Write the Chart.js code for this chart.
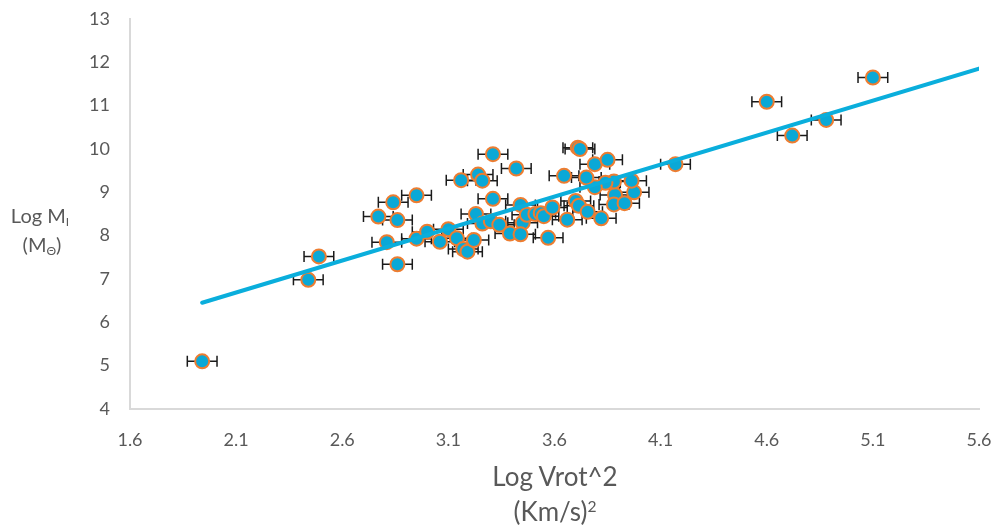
<!DOCTYPE html>
<html>
<head>
<meta charset="utf-8">
<script src="https://cdn.jsdelivr.net/npm/chart.js@4"></script>
<style>
  html, body { margin:0; padding:0; background:#fff; }
  #wrap { position:relative; width:999px; height:530px; overflow:hidden; }
  canvas { position:absolute; left:0; top:0; }
  .t { position:absolute; color:#595959; font-family:Lato, "Open Sans", sans-serif; white-space:nowrap; text-align:center; }
  .t sub { font-size:60%; vertical-align:-0.25em; line-height:0; }
  .t sup { font-size:60%; vertical-align:0.6em; line-height:0; }
</style>
</head>
<body>
<div id="wrap">
  <canvas id="c" width="999" height="530"></canvas>
  <div class="t" id="yt1" style="left:0; width:80px; top:203px; font-size:20px;">Log M<sub>I</sub></div>
  <div class="t" id="yt2" style="left:0; width:84px; top:232px; font-size:20px;">(M<sub>Θ</sub>)</div>
  <div class="t" id="xt1" style="left:455px; width:200px; top:460px; font-size:26px;">Log Vrot^2</div>
  <div class="t" id="xt2" style="left:455px; width:200px; top:495px; font-size:26px;">(Km/s)<sup>2</sup></div>
</div>
<script>
// ---- data ----
const logV2 = [1.94, 2.44, 2.49, 2.77, 2.84, 2.86, 2.81, 2.86, 2.95, 2.95,
               3.00, 3.06, 3.10, 3.14, 3.17, 3.19, 3.22, 3.23, 3.26, 3.30,
               3.34, 3.31, 3.16, 3.24, 3.26, 3.31, 3.42, 3.39, 3.44, 3.45,
               3.44, 3.47, 3.51, 3.535, 3.55, 3.59, 3.57, 3.66, 3.70, 3.715,
               3.756, 3.82, 3.885, 3.88, 3.93, 3.975, 3.963, 3.88, 3.84, 3.79,
               3.75, 3.645, 3.79, 3.85, 3.71, 3.72, 4.17, 4.60, 4.72, 4.88, 5.10];
const logM  = [5.10, 6.98, 7.52, 8.44, 8.77, 8.36, 7.85, 7.34, 8.93, 7.93,
               8.09, 7.86, 8.15, 7.94, 7.69, 7.63, 7.90, 8.50, 8.28, 8.33,
               8.25, 8.85, 9.28, 9.41, 9.27, 9.88, 9.55, 8.05, 8.71, 8.30,
               8.03, 8.48, 8.50, 8.52, 8.45, 8.65, 7.95, 8.37, 8.80, 8.69,
               8.55, 8.40, 8.94, 8.72, 8.75, 9.00, 9.27, 9.25, 9.22, 9.12,
               9.34, 9.38, 9.65, 9.75, 10.03, 10.00, 9.65, 11.09, 10.31, 10.67, 11.65];
const xErr = 0.07;           // horizontal error bar half-width (Log units)
const trendEndX = 5.6;        // trendline forecast end
const xTicks = [1.6, 2.1, 2.6, 3.1, 3.6, 4.1, 4.6, 5.1, 5.6];
const yTicks = [4, 5, 6, 7, 8, 9, 10, 11, 12, 13];

// ---- linear least-squares trendline ----
const n = logV2.length;
const mx = logV2.reduce((a,b)=>a+b,0)/n;
const my = logM.reduce((a,b)=>a+b,0)/n;
let sxy = 0, sxx = 0;
for (let i=0;i<n;i++){ sxy += (logV2[i]-mx)*(logM[i]-my); sxx += (logV2[i]-mx)**2; }
const slope = sxy/sxx, icpt = my - slope*mx;
const tx0 = Math.min(...logV2);
const trend = [{x:tx0, y:icpt+slope*tx0}, {x:trendEndX, y:icpt+slope*trendEndX}];

const pts = logV2.map((x,i)=>({x, y:logM[i]}));

const errorBars = {
  id:'errorBars',
  beforeDatasetsDraw(chart){
    const {ctx, scales:{x, y}} = chart;
    ctx.save();
    ctx.strokeStyle = '#1a1a1a';
    ctx.lineWidth = 1.5;
    const cap = 5.5;
    pts.forEach(p=>{
      const x0 = x.getPixelForValue(p.x - xErr), x1 = x.getPixelForValue(p.x + xErr);
      const py = y.getPixelForValue(p.y);
      ctx.beginPath();
      ctx.moveTo(x0, py); ctx.lineTo(x1, py);
      ctx.moveTo(x0, py-cap); ctx.lineTo(x0, py+cap);
      ctx.moveTo(x1, py-cap); ctx.lineTo(x1, py+cap);
      ctx.stroke();
    });
    ctx.restore();
  }
};

new Chart(document.getElementById('c'), {
  type:'scatter',
  data:{
    datasets:[
      { label:'trend', type:'line', data:trend, borderColor:'#0AAEDC', borderWidth:4,
        pointRadius:0, fill:false, order:0, borderCapStyle:'round' },
      { label:'data', data:pts, backgroundColor:'#0AA8D6', borderColor:'#ED7D31',
        borderWidth:2, pointRadius:7, pointHoverRadius:7, order:1 }
    ]
  },
  plugins:[errorBars],
  options:{
    responsive:false,
    animation:false,
    layout:{ padding:{ top:19, right:20, left:0, bottom:0 } },
    plugins:{ legend:{display:false}, tooltip:{enabled:false} },
    scales:{
      x:{
        type:'linear', min:1.6, max:5.6,
        afterBuildTicks(s){ s.ticks = xTicks.map(v=>({value:v})); },
        afterFit(s){ s.height = 121; s.paddingLeft = 0; s.paddingRight = 0; },
        grid:{ display:false, drawTicks:false, tickLength:0 },
        border:{ display:true, color:'#D9D9D9', width:2 },
        ticks:{ padding:20, color:'#595959', font:{family:'Lato', size:18},
                callback:v=>Number(v).toFixed(1), maxRotation:0 }
      },
      y:{
        type:'linear', min:4, max:13,
        afterBuildTicks(s){ s.ticks = yTicks.map(v=>({value:v})); },
        afterFit(s){ s.width = 130; s.paddingTop = 0; s.paddingBottom = 0; },
        grid:{ display:false, drawTicks:false, tickLength:0 },
        border:{ display:true, color:'#D9D9D9', width:2 },
        ticks:{ padding:20, color:'#595959', font:{family:'Lato', size:18},
                callback:v=>String(v) }
      }
    }
  }
});
</script>
</body>
</html>
